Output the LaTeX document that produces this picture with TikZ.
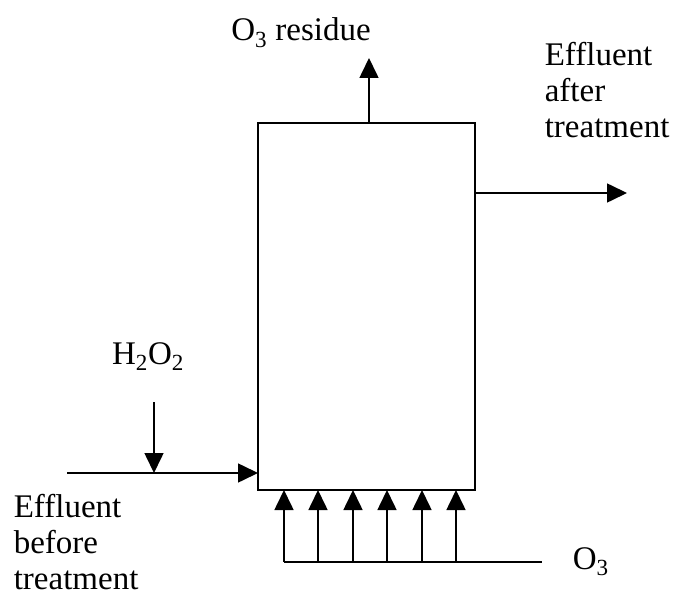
\documentclass[tikz,border=0pt]{standalone}
\usepackage{fontspec}
\setmainfont{Liberation Serif}
\usetikzlibrary{arrows.meta}
\begin{document}
\begin{tikzpicture}[x=1pt,y=-1pt,line width=1.6pt,
  flow/.style={-{Triangle[length=20pt,width=19pt]}},
  lbl/.style={inner sep=0pt,font=\fontsize{33}{36}\selectfont}]
\useasboundingbox (0,0) rectangle (674,593);
\node[draw,minimum width=217pt,minimum height=367pt,inner sep=0pt,outer sep=0pt,anchor=north west] (reactor) at (258,123) {};
% top outlet
\coordinate (topout) at (369,58);
\draw[flow] (topout |- reactor.north) -- (topout);
\node[lbl,anchor=base] (residue) at (301,41) {O\textsubscript{3} residue};
% right outlet
\coordinate (rightout) at (627,193);
\draw[flow] (rightout -| reactor.east) -- (rightout);
\node[lbl,anchor=north west,align=left] (after) at (544,41) {\fontsize{33}{35}\selectfont Effluent\\after\\treatment};
% left inlet
\coordinate (leftin) at (67,473);
\draw[flow] (leftin) -- (leftin -| reactor.west);
\node[lbl,anchor=north west,align=left] (before) at (13,493) {\fontsize{33}{36}\selectfont Effluent\\before\\treatment};
% H2O2
\coordinate (h2top) at (154,402);
\draw[flow] (h2top) -- (h2top |- leftin);
\node[lbl,anchor=base] (hp) at (148,364) {H\textsubscript{2}O\textsubscript{2}};
% ozone distributor
\coordinate (o3start) at (284,562);
\coordinate (o3end) at (542,562);
\draw (o3start) -- (o3end);
\node[lbl,anchor=base west] (ozone) at (572,569) {O\textsubscript{3}};
\foreach \i/\x in {1/284,2/318,3/353,4/387,5/422,6/456}{
  \coordinate (b\i) at (\x,562);
  \draw[flow] (b\i) -- (b\i |- reactor.south);
}
\end{tikzpicture}
\end{document}
